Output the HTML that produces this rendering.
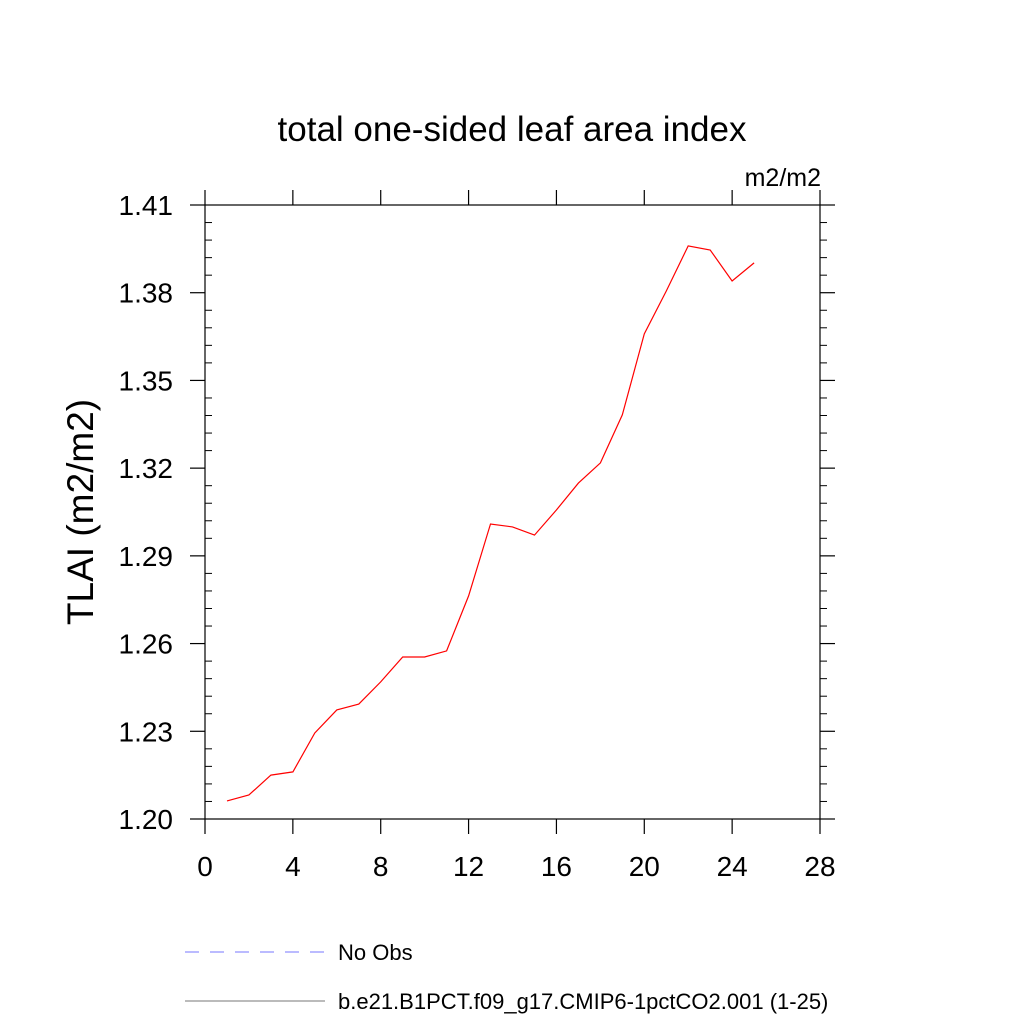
<!DOCTYPE html>
<html><head><meta charset="utf-8"><style>body{margin:0;background:#fff}svg{display:block}</style></head>
<body>
<svg id="chart" width="1024" height="1024" xmlns="http://www.w3.org/2000/svg" font-family="Liberation Sans, sans-serif">
<text x="512" y="141" font-size="35" text-anchor="middle">total one-sided leaf area index</text>
<text x="821" y="186" font-size="25" text-anchor="end">m2/m2</text>
<text transform="translate(93,512) rotate(-90)" font-size="37" text-anchor="middle">TLAI  (m2/m2)</text>
<g id="axes"></g>
<g id="series"></g>
<g>
<line x1="185" y1="952" x2="325" y2="952" stroke="#7777ff" stroke-width="1" stroke-dasharray="14,11"/>
<text x="338" y="960" font-size="22">No Obs</text>
<line x1="185" y1="1001" x2="325" y2="1001" stroke="#777" stroke-width="1"/>
<text x="338" y="1009" font-size="22">b.e21.B1PCT.f09_g17.CMIP6-1pctCO2.001 (1-25)</text>
</g>
</svg>
<script>
const years = [1,2,3,4,5,6,7,8,9,10,11,12,13,14,15,16,17,18,19,20,21,22,23,24,25];
const tlai = [1.2062,1.2082,1.2150,1.2161,1.2294,1.2373,1.2393,1.2469,1.2554,1.2554,1.2575,1.2763,1.3009,1.2999,1.2971,1.3057,1.3149,1.3218,1.3382,1.3659,1.3806,1.3960,1.3946,1.3840,1.3902];
const xTicks = [0,4,8,12,16,20,24,28];
const yTicks = [1.20,1.23,1.26,1.29,1.32,1.35,1.38,1.41];
const X0=205,X1=820,Y0=819,Y1=205;
const xs=v=>X0+(v-0)/28*(X1-X0);
const ys=v=>Y0-(v-1.20)/0.21*(Y0-Y1);
const NS="http://www.w3.org/2000/svg";
const ax=document.getElementById('axes');
function mk(tag,attrs,parent){const e=document.createElementNS(NS,tag);for(const k in attrs)e.setAttribute(k,attrs[k]);parent.appendChild(e);return e;}
const frame=mk('rect',{x:X0,y:Y1,width:X1-X0,height:Y0-Y1,fill:'none',stroke:'#000','stroke-width':1.2},ax);


xTicks.forEach(t=>{const x=xs(t);
 const a=mk('line',{x1:x,x2:x,y1:Y0,y2:Y0+15,stroke:'#000','stroke-width':1.2},ax);
 
 
 const b=mk('line',{x1:x,x2:x,y1:Y1,y2:Y1-15,stroke:'#000','stroke-width':1.2},ax);
 
 
 const l=mk('text',{x:x,y:Y0+57,'font-size':28,'text-anchor':'middle'},ax);l.textContent=t;
 
 
});
yTicks.forEach(t=>{const y=ys(t);
 const a=mk('line',{x1:X0-15,x2:X0,y1:y,y2:y,stroke:'#000','stroke-width':1.2},ax);
 
 
 const b=mk('line',{x1:X1,x2:X1+15,y1:y,y2:y,stroke:'#000','stroke-width':1.2},ax);
 
 
 const l=mk('text',{x:X0-32,y:y+10,'font-size':28,'text-anchor':'end'},ax);l.textContent=t.toFixed(2);
 
 
});
for(let i=0;i<yTicks.length-1;i++){for(let k=1;k<5;k++){const y=ys(yTicks[i]+k*0.006);
 const a=mk('line',{x1:X0,x2:X0+7,y1:y,y2:y,stroke:'#000','stroke-width':1},ax);
 
 
 const b=mk('line',{x1:X1,x2:X1+7,y1:y,y2:y,stroke:'#000','stroke-width':1},ax);
 
 
}}
const pts=years.map((v,i)=>xs(v).toFixed(1)+','+ys(tlai[i]).toFixed(1)).join(' ');
const line=mk('polyline',{points:pts,fill:'none',stroke:'#ff0000','stroke-width':1.2},document.getElementById('series'));


</script>
</body></html>
